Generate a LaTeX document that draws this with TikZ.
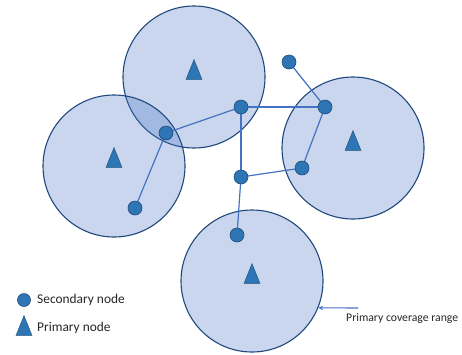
\documentclass[tikz,border=0pt]{standalone}
\usepackage{fontspec}
\setmainfont{Carlito}
\usetikzlibrary{shapes.geometric}
\definecolor{rangefill}{RGB}{68,114,196}
\definecolor{rangeline}{RGB}{31,73,125}
\definecolor{nodefill}{RGB}{46,117,182}
\definecolor{nodeline}{RGB}{31,78,121}
\definecolor{linkcol}{RGB}{68,114,196}
\tikzset{
  cover/.style={circle, draw=rangeline, line width=1.1pt, fill=rangefill, fill opacity=0.29, draw opacity=1, minimum size=142pt, inner sep=0pt},
  sec/.style={circle, draw=nodeline, line width=0.6pt, fill=nodefill, minimum size=14pt, inner sep=0pt},
  prim/.style={isosceles triangle, shape border rotate=90, isosceles triangle apex angle=44, fill=nodefill, draw=nodeline, line width=0.4pt, minimum height=19pt, minimum width=16pt, inner sep=0pt},
  link/.style={draw=linkcol, line width=1.2pt},
  lbl/.style={font=\fontsize{13.4}{15}\selectfont, text=black!85, inner sep=0pt}
}
\begin{document}
\begin{tikzpicture}[>=stealth, x=1pt, y=-1pt]
    \useasboundingbox (0,0) rectangle (462,354);

    % 覆盖范围
    \node[cover] (rtop) at (194,77) {};
    \node[cover] (rleft) at (114,166) {};
    \node[cover] (rright) at (353,148) {};
    \node[cover] (rbot) at (252,281) {};

    % 主节点
    \node[prim] (ptop) at (194,74) {};
    \node[prim] (pleft) at (114,162) {};
    \node[prim] (pright) at (353,145) {};
    \node[prim] (pbot) at (252,278) {};

    % 次节点
    \coordinate (a) at (289,62);
    \coordinate (b) at (325,107);
    \coordinate (c) at (241,107);
    \coordinate (d) at (166,133);
    \coordinate (e) at (135,208);
    \coordinate (f) at (241,177);
    \coordinate (g) at (302,168);
    \coordinate (h) at (237,235);

    % 链路
    \draw[link] (a) -- (b);
    \draw[link] (c) -- (b);
    \draw[link] (c) -- (d);
    \draw[link] (d) -- (e);
    \draw[link] (c) -- (f);
    \draw[link] (f) -- (g);
    \draw[link] (g) -- (b);
    \draw[link] (f) -- (h);

    \foreach \n in {a,b,c,d,e,f,g,h}
        \node[sec] (s\n) at (\n) {};

    % 图例
    \node[sec, minimum size=13pt] (lsec) at (24,300) {};
    \node[prim, minimum height=18pt] (lprim) at (24,330) {};
    \node[lbl, anchor=west] (tsec) at (37,300) {Secondary node};
    \node[lbl, anchor=west] (tprim) at (37,328) {Primary node};

    % 范围说明
    \coordinate (tail) at (358,308);
    \node[lbl, font=\fontsize{11.7}{13}\selectfont, anchor=west] (trange) at (346,318) {Primary coverage range};
    \draw[->, draw=linkcol, line width=1.1pt] (tail) -- (rbot.-22);
\end{tikzpicture}
\end{document}
